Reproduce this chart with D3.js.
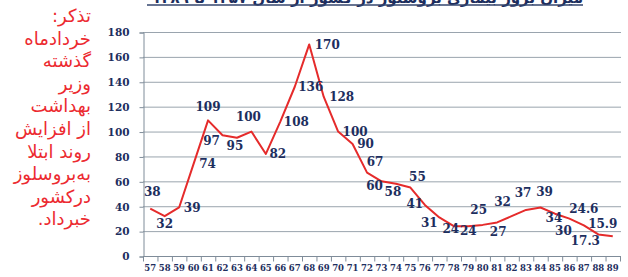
<!DOCTYPE html>
<html lang="fa">
<head>
<meta charset="utf-8">
<title>بروسلوز</title>
<style>
  * { margin: 0; padding: 0; box-sizing: border-box; }
  body { background: #fff; width: 628px; height: 277px; overflow: hidden; position: relative; }
  svg { display: block; position: absolute; left: 0; top: 0; }
  #note {
    position: absolute; top: 5px; right: 537px; width: 100px;
    direction: rtl; text-align: right;
    font-family: "DejaVu Sans", sans-serif; font-size: 18px; line-height: 22.6px;
    color: #ec2a30; white-space: nowrap;
  }
  .tick text { font-family: "DejaVu Serif", serif; font-weight: bold; fill: #1d2e5e; }
  .val { font-family: "DejaVu Serif", serif; font-weight: bold; font-size: 12px; fill: #1d2e5e; }
</style>
</head>
<body>
<svg id="chart" width="628" height="277"></svg>
<div id="note"></div>
<script src="https://d3js.org/d3.v7.min.js"></script>
<script>
const years = ["57","58","59","60","61","62","63","64","65","66","67","68","69","70","71","72","73",
  "74","75","76","77","78","79","80","81","82","83","84","85","86","87","88","89"];
const cases = [38,32,39,74,109,97,95,100,82,108,136,170,128,100,90,67,60,
  58,55,41,31,24,24,25,27,32,37,39,34,30,24.6,17.3,15.9];
const yTicks = [0,20,40,60,80,100,120,140,160,180];
const noteLines = ["تذکر:", "خردادماه", "گذشته", "وزیر", "بهداشت", "از افزایش", "روند ابتلا", "به‌بروسلوز", "درکشور", "خبرداد."];
const title = "میزان بروز بیماری بروسلوز در کشور از سال ۱۳۵۷ تا ۱۳۸۹";

// label offsets from each point (dx, dy)
const labelOffset = [[2,-17],[0,8],[13,0],[14,0],[0,-14],[-11,5],[-2,8],[-3,-15],[12,0],[16,0],[16,0],
  [18,0],[18,0],[17,0],[13,0],[8,-11],[-7,4],[-3,8],[7,-11],[-10,-1],[-10,5],[-3,3],[0,5],[-4,-15],
  [1,9],[-9,-14],[-3,-17],[4,-16],[-1,4],[-6,12],[0,-17],[-13,6],[-10,-13]];

const svg = d3.select("#chart");

const x = d3.scaleBand().domain(years).range([143, 620]);
const y = d3.scaleLinear().domain([0, 180]).range([256, 32]);

// title (cut off at the top edge, as in the source)
svg.append("text")
  .attr("x", 583).attr("y", 3)
  .attr("direction", "rtl").attr("text-anchor", "start")
  .attr("font-family", "DejaVu Sans").attr("font-weight", "bold").attr("font-size", 15)
  .attr("fill", "#1d2e5e")
  .text(title);
svg.append("line").attr("x1", 147).attr("x2", 583).attr("y1", 5).attr("y2", 5)
  .attr("stroke", "#34466e").attr("stroke-width", 1.5);

// grid
svg.append("g").selectAll("line")
  .data(yTicks.filter(d => d > 0)).join("line")
  .attr("x1", 143).attr("x2", 621)
  .attr("y1", d => y(d) + 0.5).attr("y2", d => y(d) + 0.5)
  .attr("stroke", "#9aa4ae").attr("stroke-width", 1);

// y axis
const yAxis = svg.append("g").attr("transform", "translate(143.5,0.5)")
  .call(d3.axisLeft(y).tickValues(yTicks).tickSize(4).tickPadding(10));
yAxis.selectAll("text").attr("font-size", 10.5);
yAxis.selectAll("path, line").attr("stroke", "#7f8c99");

// x axis with ticks between categories
const xAxis = svg.append("g").attr("transform", "translate(0,256.5)");
xAxis.append("line").attr("x1", 143).attr("x2", 621).attr("stroke", "#7f8c99");
xAxis.selectAll(".tk").data(years.concat(["end"])).join("line")
  .attr("class", "tk")
  .attr("x1", (d, i) => 143.5 + i * x.step()).attr("x2", (d, i) => 143.5 + i * x.step())
  .attr("y1", 0).attr("y2", 5).attr("stroke", "#7f8c99");
xAxis.selectAll("text").data(years).join("text")
  .attr("x", d => x(d) + x.bandwidth() / 2).attr("y", 14)
  .attr("text-anchor", "middle")
  .attr("font-family", "DejaVu Serif").attr("font-weight", "bold").attr("font-size", 8.5)
  .attr("fill", "#1d2e5e")
  .text(d => d);

// line
const line = d3.line()
  .x((d, i) => x(years[i]) + x.bandwidth() / 2)
  .y(d => y(d));
svg.append("path").datum(cases)
  .attr("d", line)
  .attr("fill", "none").attr("stroke", "#e52b2b").attr("stroke-width", 2)
  .attr("stroke-linejoin", "round");

// value labels
svg.append("g").selectAll("text")
  .data(cases).join("text")
  .attr("class", "val")
  .attr("x", (d, i) => x(years[i]) + x.bandwidth() / 2 + labelOffset[i][0])
  .attr("y", (d, i) => y(d) + labelOffset[i][1])
  .attr("text-anchor", "middle").attr("dy", "0.36em")
  .text(d => d);

// note at the left
d3.select("#note").selectAll("div").data(noteLines).join("div").text(d => d);
</script>
</body>
</html>
